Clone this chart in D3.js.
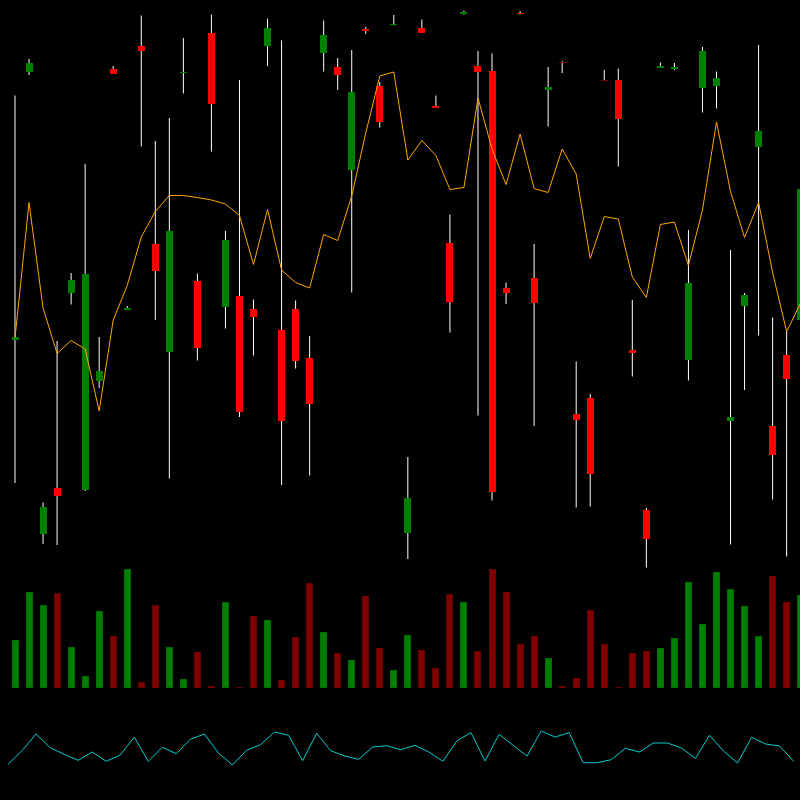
<!DOCTYPE html>
<html>
<head>
<meta charset="utf-8">
<script src="https://cdn.jsdelivr.net/npm/d3@7"></script>
<style>
  html, body { margin: 0; padding: 0; background: #000; }
  svg { display: block; }
</style>
</head>
<body>
<svg class="svg-main" width="800" height="800"></svg>
<script>
// candle values (open, high, low, close), one entry per bar
const opens = [52.0, 105.7, 13.2, 22.5, 61.5, 22.1, 43.9, 106.2, 58.1, 110.8,
  71.3, 49.7, 105.4, 63.8, 113.5, 58.6, 60.8, 58.3, 110.8, 54.0,
  58.3, 48.5, 109.4, 106.6, 86.1, 114.3, 102.8, 115.0, 13.5, 114.5,
  98.8, 71.5, 117.4, 106.8, 105.8, 62.4, 117.5, 64.4, 102.0, 107.7,
  37.2, 40.4, 104.1, 104.1, 50.0, 18.0, 106.6, 106.2, 48.1, 102.5,
  102.8, 35.9, 58.8, 90.7, 34.8, 49.0, 56.0];
const highs = [100.9, 108.2, 19.5, 51.8, 65.4, 87.2, 52.6, 106.8, 58.8, 116.9,
  91.8, 96.4, 112.4, 65.3, 117.1, 73.8, 104.0, 60.1, 116.3, 111.9,
  59.9, 52.8, 115.9, 108.4, 110.0, 114.6, 103.6, 117.0, 28.6, 116.1,
  100.9, 77.1, 117.9, 109.8, 109.3, 63.5, 117.8, 71.2, 106.6, 107.8,
  47.7, 41.2, 106.0, 106.3, 60.0, 18.4, 107.5, 107.4, 74.0, 110.6,
  105.7, 70.0, 61.4, 111.0, 56.5, 53.7, 82.4];
const lows = [23.4, 105.0, 11.2, 11.0, 59.1, 21.8, 42.4, 105.2, 58.0, 90.7,
  56.0, 24.3, 101.3, 47.9, 89.7, 54.3, 36.6, 48.9, 106.8, 23.0,
  46.3, 24.9, 105.7, 102.0, 61.5, 113.2, 94.5, 114.9, 8.2, 113.4,
  98.4, 53.5, 117.1, 36.9, 19.9, 59.2, 117.1, 34.8, 94.7, 105.4,
  18.5, 18.7, 104.0, 86.7, 44.7, 6.5, 106.5, 106.0, 43.9, 97.5,
  98.3, 11.1, 42.0, 52.9, 20.1, 8.7, 55.8];
const closes = [52.6, 107.5, 18.6, 20.8, 64.0, 65.2, 45.9, 105.3, 58.4, 109.9,
  65.9, 73.8, 105.7, 50.4, 99.3, 72.0, 37.7, 56.7, 114.4, 35.9,
  47.8, 39.3, 113.0, 105.0, 101.6, 113.9, 95.6, 115.3, 20.4, 113.5,
  98.6, 59.6, 117.6, 105.7, 21.7, 61.4, 117.2, 59.5, 102.6, 107.7,
  36.1, 25.3, 104.1, 96.3, 49.5, 12.2, 106.8, 106.6, 63.4, 109.9,
  104.5, 36.7, 61.1, 93.8, 29.1, 44.2, 82.2];
// the two bars that closed flat were counted as down bars
const flatDown = [39, 42];

// orange average line
const average = [52.4, 79.5, 58.4, 49.3, 51.9, 50.2, 37.8, 56.0, 62.9, 72.6,
  77.7, 80.9, 80.9, 80.5, 80.0, 79.2, 76.9, 67.1, 78.1, 66.0,
  63.5, 62.4, 73.1, 71.9, 80.8, 93.4, 104.8, 105.6, 88.0, 91.9,
  88.9, 82.1, 82.5, 100.4, 90.2, 83.1, 93.2, 82.3, 81.5, 90.2,
  85.2, 68.3, 76.7, 76.2, 64.6, 60.5, 75.1, 75.6, 66.9, 78.0,
  95.6, 81.7, 72.5, 79.5, 65.5, 53.7, 59.4];

// volume
const volumes = [4770, 9600, 8300, 9500, 4130, 1200, 7730, 5170, 11900, 630,
  8270, 4070, 900, 3570, 200, 8600, 130, 7170, 6800, 770,
  5130, 10500, 5570, 3500, 2830, 9200, 3970, 1800, 5300, 3800,
  2000, 9400, 8630, 3670, 11870, 9600, 4370, 5230, 3000, 200,
  1000, 7800, 4370, 130, 3500, 3700, 3970, 5000, 10570, 6400,
  11600, 9870, 8200, 5170, 11170, 8600, 9330];

// cyan oscillator
const oscillator = [5.7, 19.3, 36, 22.3, 15.7, 9.7, 18, 8.7, 15, 33,
  8.7, 22.7, 16.3, 30.7, 36, 17, 5, 19.7, 25.3, 38,
  34.7, 9.3, 36.7, 19.3, 14, 10.7, 23, 24.3, 20.3, 24.7,
  18, 8.7, 29.3, 37.3, 9, 35.7, 24.7, 14, 39, 33,
  37.3, 7.3, 7.3, 10.3, 21.7, 18, 27, 27, 22, 11.7,
  34.7, 19, 7, 32.7, 26, 24, 8.7];

const svg = d3.select('.svg-main');
const width = Number(svg.attr("width"));
const height = Number(svg.attr("height"));

svg.append("rect")
  .attr("width", width)
  .attr("height", height)
  .attr("fill", "#000");

const candles = opens.map((o, i) => ({
  i: i,
  open: o,
  high: highs[i],
  low: lows[i],
  close: closes[i],
  volume: volumes[i],
  up: closes[i] > o || (closes[i] === o && !flatDown.includes(i)),
  flat: closes[i] === o
}));

const step = 14.03;
const x = d3.scaleLinear()
  .domain([0, candles.length - 1])
  .range([15, 15 + step * (candles.length - 1)]);

const y = d3.scaleLinear().domain([120, 6]).range([0, 570]);
const yVol = d3.scaleLinear().domain([0, 12000]).range([688, 568]);
const yOsc = d3.scaleLinear().domain([0, 40]).range([770, 730]);

const bodyWidth = 7;

// wicks
svg.append("g")
  .attr("class", "wicks")
  .selectAll("line")
  .data(candles)
  .enter().append("line")
    .attr("x1", (d) => x(d.i))
    .attr("x2", (d) => x(d.i))
    .attr("y1", (d) => y(d.high))
    .attr("y2", (d) => y(d.low))
    .attr("stroke", "#fff")
    .attr("stroke-width", 1);

// bodies
svg.append("g")
  .attr("class", "bodies")
  .selectAll("rect")
  .data(candles)
  .enter().append("rect")
    .attr("x", (d) => x(d.i) - bodyWidth / 2)
    .attr("width", bodyWidth)
    .attr("y", (d) => y(Math.max(d.open, d.close)))
    .attr("height", (d) => d.flat ? 1 : Math.max(1.5, Math.abs(y(d.open) - y(d.close))))
    .attr("fill", (d) => d.flat ? "#7a0000" : (d.up ? "#008000" : "#ff0000"))
    .attr("shape-rendering", "crispEdges");

// average line
const line = d3.line()
  .x((d, i) => x(i))
  .y((d) => y(d));

svg.append("path")
  .datum(average)
  .attr("d", line)
  .attr("fill", "none")
  .attr("stroke", "#ffa500")
  .attr("stroke-width", 1);

// volume bars
svg.append("g")
  .attr("class", "volume")
  .selectAll("rect")
  .data(candles)
  .enter().append("rect")
    .attr("x", (d) => x(d.i) - bodyWidth / 2 + 0.5)
    .attr("width", bodyWidth - 1)
    .attr("y", (d) => yVol(d.volume) + 0.5)
    .attr("height", (d) => Math.max(0, yVol(0) - yVol(d.volume) - 1))
    .attr("fill", (d) => d.up ? "#008000" : "#800000")
    .attr("stroke", (d) => d.up ? "#006a00" : "#6a0000")
    .attr("stroke-width", 1)
    .attr("shape-rendering", "crispEdges");

// oscillator
const oscLine = d3.line()
  .x((d, i) => x(i) - step / 2)
  .y((d) => yOsc(d));

svg.append("path")
  .datum(oscillator)
  .attr("d", oscLine)
  .attr("fill", "none")
  .attr("stroke", "#00cccc")
  .attr("stroke-width", 1);
</script>
</body>
</html>
